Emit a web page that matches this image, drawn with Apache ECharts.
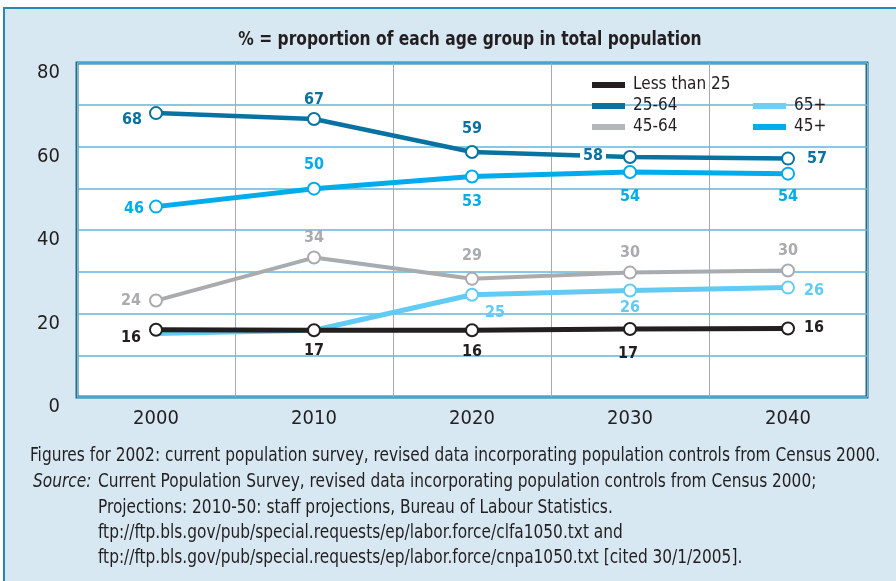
<!DOCTYPE html>
<html>
<head>
<meta charset="utf-8">
<script src="https://cdn.jsdelivr.net/npm/echarts@6/dist/echarts.min.js"></script>
<style>
  html, body { margin: 0; padding: 0; background: #fff; }
  #chart { width: 896px; height: 581px; }
</style>
</head>
<body>
<div id="chart"></div>
<script>
// data
var years = ["2000", "2010", "2020", "2030", "2040"];
var under25 = [16.1, 16.0, 16.0, 16.3, 16.4];
var under25Labels = ["16", "17", "16", "17", "16"];
var age25to64 = [68.0, 66.6, 58.7, 57.5, 57.1];
var age25to64Labels = ["68", "67", "59", "58", "57"];
var age45to64 = [23.1, 33.4, 28.3, 29.8, 30.3];
var age45to64Labels = ["24", "34", "29", "30", "30"];
var age65plus = [15.2, 16.0, 24.5, 25.5, 26.2];
var age65plusLabels = ["", "16", "25", "26", "26"];
var age45plus = [45.6, 49.9, 52.8, 53.9, 53.5];
var age45plusLabels = ["46", "50", "53", "54", "54"];
var yTicks = [0, 20, 40, 60, 80];

var FONT = "'Liberation Sans Narrow', 'Arial Narrow', 'DejaVu Sans Condensed', sans-serif";
var TEXT = "#231f20";

// label offset from each point (px)
var offsets = {
    under25: [[-25, 8], [0, 21], [0, 22], [-2, 25], [26, -1]],
    age25to64: [[-24, 7], [0, -19], [0, -23], [-37, -1], [29, 0]],
    age45to64: [[-25, 0], [0, -20], [0, -23], [0, -20], [0, -20]],
    age65plus: [[0, 0], [0, -19], [23, 18], [0, 17], [26, 3]],
    age45plus: [[-22, 2], [0, -24], [0, 25], [0, 25], [0, 23]]
};

function makeSeries (name, values, labels, offs, color, width, hide) {
    var data = values.map(function (v, i) {
        var item = {
            value: v,
            label: {
                offset: offs[i]
            }
        };
        if (hide && hide.indexOf(i) !== -1) {
            item.symbol = "none";
        }
        if (name === "25-64" && i === 3) {
            item.label.backgroundColor = "#fff";
            item.label.padding = [0, 3];
        }
        return item;
    });
    return {
        name: name,
        type: "line",
        data: data,
        symbol: "circle",
        symbolSize: 12,
        lineStyle: { color: color, width: width },
        itemStyle: { color: "#fff", borderColor: color, borderWidth: 2 },
        label: {
            show: true,
            position: "inside",
            fontFamily: FONT,
            fontWeight: "bold",
            fontSize: 16,
            color: color,
            formatter: function (p) { return labels[p.dataIndex]; }
        },
        emphasis: { disabled: true },
        z: 3
    };
}

var colors = {
    under25: "#231f20",
    age25to64: "#0a72a0",
    age45to64: "#a9abae",
    age65plus: "#62cbf4",
    age45plus: "#00acec"
};

// footnote text, condensed a little to look like the narrow face of the original
function note (x, y, text, italic) {
    return {
        type: "text", x: x, y: y, scaleX: 0.9,
        style: {
            text: text,
            font: (italic ? "italic " : "") + "19px " + FONT,
            fill: TEXT,
            verticalAlign: "middle"
        }
    };
}

var chart = echarts.init(document.getElementById("chart"));

var option = {
    animation: false,
    backgroundColor: "#fff",
    textStyle: { fontFamily: FONT },
    graphic: [
        {
            type: "rect",
            z: -100,
            shape: { x: 4, y: 8, width: 900, height: 580 },
            style: { fill: "#d7e8f2", stroke: "#2a86b4", lineWidth: 2 }
        },
        {
            type: "text",
            x: 470, y: 40, scaleX: 0.86,
            style: {
                text: "% = proportion of each age group in total population",
                font: "bold 20px " + FONT,
                fill: TEXT,
                align: "center",
                verticalAlign: "middle"
            }
        },
        note(30, 456, "Figures for 2002: current population survey, revised data incorporating population controls from Census 2000."),
        note(33, 482, "Source:", true),
        note(98, 482, "Current Population Survey, revised data incorporating population controls from Census 2000;"),
        note(98, 508, "Projections: 2010-50: staff projections, Bureau of Labour Statistics."),
        note(98, 533, "ftp://ftp.bls.gov/pub/special.requests/ep/labor.force/clfa1050.txt and"),
        note(98, 558, "ftp://ftp.bls.gov/pub/special.requests/ep/labor.force/cnpa1050.txt [cited 30/1/2005].")
    ],
    legend: [
        {
            orient: "vertical",
            left: 592, top: 75,
            padding: 0,
            icon: "rect",
            itemWidth: 33, itemHeight: 6, itemGap: 1,
            selectedMode: false,
            textStyle: { fontFamily: FONT, fontSize: 17, lineHeight: 20, color: TEXT, padding: [0, 0, 0, 3] },
            data: [
                { name: "Less than 25", itemStyle: { color: colors.under25, borderWidth: 0 } },
                { name: "25-64", itemStyle: { color: colors.age25to64, borderWidth: 0 } },
                { name: "45-64", itemStyle: { color: "#b5b6b8", borderWidth: 0 } }
            ]
        },
        {
            orient: "vertical",
            left: 753, top: 96,
            padding: 0,
            icon: "rect",
            itemWidth: 33, itemHeight: 6, itemGap: 1,
            selectedMode: false,
            textStyle: { fontFamily: FONT, fontSize: 17, lineHeight: 20, color: TEXT, padding: [0, 0, 0, 3] },
            data: [
                { name: "65+", itemStyle: { color: "#6dcff6", borderWidth: 0 } },
                { name: "45+", itemStyle: { color: colors.age45plus, borderWidth: 0 } }
            ]
        }
    ],
    grid: {
        left: 77, top: 63, width: 790, height: 334,
        show: true,
        backgroundColor: "#fff",
        borderColor: "#0b74a0",
        borderWidth: 3,
        z: 0
    },
    xAxis: {
        type: "category",
        data: years,
        boundaryGap: true,
        axisLine: { show: false },
        axisTick: { show: false },
        axisLabel: { fontFamily: FONT, fontSize: 20, color: TEXT, margin: 12 },
        splitLine: { show: true, lineStyle: { color: "#a9a9a9", width: 1 } }
    },
    yAxis: {
        type: "value",
        min: 0, max: 80, interval: 10,
        axisLine: { show: false },
        axisTick: { show: false },
        axisLabel: {
            fontFamily: FONT, fontSize: 20, color: TEXT, margin: 17,
            verticalAlign: "top",
            formatter: function (v) { return yTicks.indexOf(v) !== -1 ? String(v) : ""; }
        },
        splitLine: { show: true, lineStyle: { color: "#62b4dc", width: 1.5 } }
    },
    series: [
        makeSeries("45-64", age45to64, age45to64Labels, offsets.age45to64, colors.age45to64, 4),
        makeSeries("25-64", age25to64, age25to64Labels, offsets.age25to64, colors.age25to64, 4.5),
        makeSeries("45+", age45plus, age45plusLabels, offsets.age45plus, colors.age45plus, 5),
        makeSeries("65+", age65plus, age65plusLabels, offsets.age65plus, colors.age65plus, 5, [0, 1]),
        makeSeries("Less than 25", under25, under25Labels, offsets.under25, colors.under25, 5)
    ]
};

chart.setOption(option);
</script>
</body>
</html>
